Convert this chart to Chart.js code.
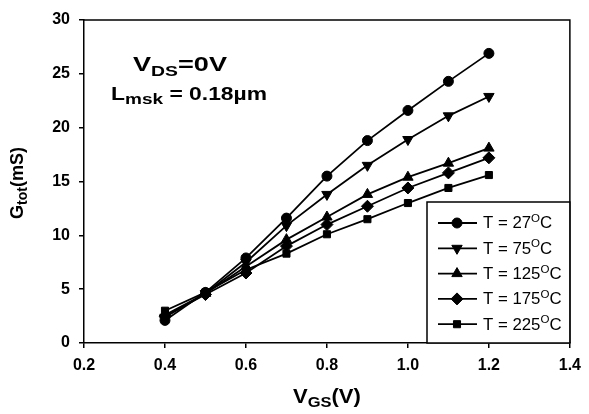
<!DOCTYPE html>
<html lang="en">
<head>
    <meta charset="UTF-8">
    <title>Gtot vs VGS</title>
    <script src="https://cdn.jsdelivr.net/npm/chart.js"></script>
    <style>
        body{
            margin: 0;
            padding: 0;
            background-color: #fff;
        }
    </style>
</head>
<body>
    <canvas id="myChart" width="589" height="414"></canvas>
    <script>
        // values
        const vgs = [0.4, 0.5, 0.6, 0.7, 0.8, 0.9, 1.0, 1.1, 1.2];
        const g27 = [2.1, 4.7, 7.9, 11.6, 15.5, 18.8, 21.6, 24.3, 26.9];
        const g75 = [2.4, 4.6, 7.5, 10.9, 13.8, 16.5, 18.9, 21.1, 22.9];
        const g125 = [2.6, 4.6, 7.1, 9.6, 11.7, 13.8, 15.4, 16.7, 18.1];
        const g175 = [2.5, 4.5, 6.5, 9.0, 11.0, 12.7, 14.4, 15.8, 17.2];
        const g225 = [3.0, 4.7, 6.8, 8.3, 10.1, 11.5, 13.0, 14.4, 15.6];
        const temps = ['27', '75', '125', '175', '225'];
        const styles = [
            {pointStyle: 'circle', rotation: 0, radius: 5},
            {pointStyle: 'triangle', rotation: 180, radius: 6},
            {pointStyle: 'triangle', rotation: 0, radius: 6},
            {pointStyle: 'rectRot', rotation: 0, radius: 6},
            {pointStyle: 'rect', rotation: 0, radius: 5}
        ];
        const xTicks = [0.2, 0.4, 0.6, 0.8, 1.0, 1.2, 1.4];
        const yTicks = [0, 5, 10, 15, 20, 25, 30];

        const FONT = '"Liberation Sans", Arial, sans-serif';
        const series = [g27, g75, g125, g175, g225];

        const datasets = series.map((arr, i) => ({
            label: 'T = ' + temps[i] + 'oC',
            data: vgs.map((v, j) => ({x: v, y: arr[j]})),
            borderColor: '#000',
            backgroundColor: '#000',
            borderWidth: 1.8,
            pointStyle: styles[i].pointStyle,
            rotation: styles[i].rotation,
            pointRadius: styles[i].radius,
            pointBorderWidth: 1,
            tension: 0
        }));

        // text pieces: [text, size, dy]; sx stretches horizontally
        function piecesWidth(ctx, pieces, bold) {
            let w = 0;
            pieces.forEach(p => {
                ctx.font = (bold ? 'bold ' : '') + p[1] + 'px ' + FONT;
                w += ctx.measureText(p[0]).width;
            });
            return w;
        }
        function drawPieces(ctx, pieces, x, y, bold, sx) {
            sx = sx || 1;
            ctx.save();
            ctx.translate(x, y);
            ctx.scale(sx, 1);
            let cx = 0;
            pieces.forEach(p => {
                ctx.font = (bold ? 'bold ' : '') + p[1] + 'px ' + FONT;
                ctx.fillText(p[0], cx, p[2]);
                cx += ctx.measureText(p[0]).width;
            });
            ctx.restore();
            return cx * sx;
        }

        const decor = {
            id: 'decor',
            afterDraw(chart) {
                const ctx = chart.ctx;
                const a = chart.chartArea;
                ctx.save();
                // frame top and right
                ctx.strokeStyle = '#000';
                ctx.lineWidth = 1.5;
                ctx.beginPath();
                ctx.moveTo(a.left, a.top);
                ctx.lineTo(a.right, a.top);
                ctx.lineTo(a.right, a.bottom);
                ctx.stroke();

                ctx.fillStyle = '#000';
                ctx.textBaseline = 'alphabetic';
                ctx.textAlign = 'left';

                // annotations
                const t1 = [['V', 21, 0], ['DS', 15, 5], ['=0V', 21, 0]];
                drawPieces(ctx, t1, 133, 71, true, 94 / piecesWidth(ctx, t1, true));
                const t2 = [['L', 18, 0], ['msk', 15, 4], [' = 0.18\u00b5m', 18, 0]];
                drawPieces(ctx, t2, 111, 100, true, 156 / piecesWidth(ctx, t2, true));

                // x title
                const xt = [['V', 20, 0], ['GS', 15, 4], ['(V)', 20, 0]];
                const xw = piecesWidth(ctx, xt, true) * 1.1;
                drawPieces(ctx, xt, (a.left + a.right) / 2 - xw / 2, 403, true, 1.1);

                // y title
                ctx.save();
                ctx.translate(23, 183);
                ctx.rotate(-Math.PI / 2);
                const yt = [['G', 18, 0], ['tot', 14, 4], ['(mS)', 18, 0]];
                const yw = piecesWidth(ctx, yt, true);
                drawPieces(ctx, yt, -yw / 2, 0, true);
                ctx.restore();

                // legend box
                const lx = 427, ly = 202, lw = a.right - lx, lh = a.bottom - ly;
                ctx.fillStyle = '#fff';
                ctx.fillRect(lx, ly, lw, lh);
                ctx.strokeStyle = '#000';
                ctx.lineWidth = 1.5;
                ctx.strokeRect(lx, ly, lw, lh);
                chart.data.datasets.forEach((ds, i) => {
                    const ry = 223 + i * 25.3;
                    ctx.strokeStyle = '#000';
                    ctx.fillStyle = '#000';
                    ctx.lineWidth = 1.8;
                    ctx.beginPath();
                    ctx.moveTo(438, ry);
                    ctx.lineTo(477, ry);
                    ctx.stroke();
                    ctx.lineWidth = 1;
                    Chart.helpers.drawPoint(ctx, {
                        pointStyle: ds.pointStyle,
                        rotation: ds.rotation,
                        radius: ds.pointRadius,
                        borderWidth: 1
                    }, 457, ry);
                    ctx.fillStyle = '#000';
                    ctx.textBaseline = 'middle';
                    drawPieces(ctx, [['T = ' + temps[i], 16, 1], ['O', 11, -4], ['C', 16, 1]], 483, ry, false, 1.05);
                });
                ctx.restore();
            }
        };

        const ctx = document.getElementById('myChart');
        new Chart(ctx, {
            type: 'line',
            data: { datasets: datasets },
            options: {
                responsive: false,
                devicePixelRatio: 1,
                animation: false,
                layout: { padding: { top: 20, right: 13, left: 0, bottom: 0 } },
                plugins: {
                    legend: { display: false },
                    tooltip: { enabled: false }
                },
                scales: {
                    x: {
                        type: 'linear',
                        min: 0.2,
                        max: 1.4,
                        afterBuildTicks: s => { s.ticks = xTicks.map(v => ({value: v})); },
                        afterFit: s => { s.height = 71; },
                        ticks: {
                            color: '#000',
                            padding: 8,
                            font: { family: FONT, size: 16, weight: 'bold' },
                            callback: v => v.toFixed(1)
                        },
                        grid: { drawOnChartArea: false, drawTicks: true, tickLength: 5, color: '#000', lineWidth: 1.5 },
                        border: { color: '#000', width: 1.5 }
                    },
                    y: {
                        min: 0,
                        max: 30,
                        afterBuildTicks: s => { s.ticks = yTicks.map(v => ({value: v})); },
                        afterFit: s => { s.width = 84; },
                        ticks: {
                            color: '#000',
                            padding: 9,
                            font: { family: FONT, size: 16, weight: 'bold' }
                        },
                        grid: { drawOnChartArea: false, drawTicks: true, tickLength: 5, color: '#000', lineWidth: 1.5 },
                        border: { color: '#000', width: 1.5 }
                    }
                }
            },
            plugins: [decor]
        });
    </script>
</body>
</html>
